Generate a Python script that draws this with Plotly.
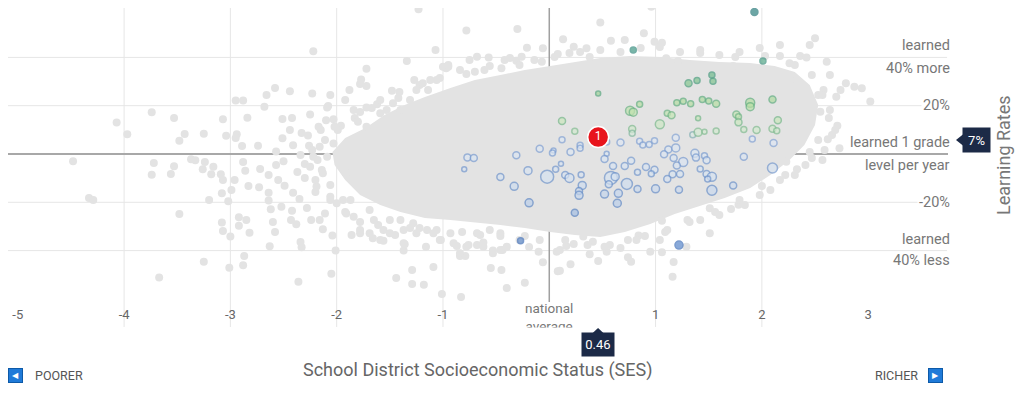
import plotly.graph_objects as go

# ---------------- data ----------------
# dense core of all districts (outline, SES / learning-rate %)
core_x = [-2.04, -1.92, -1.73, -1.55, -1.36, -1.17, -0.93, -0.70, -0.46, -0.23, 0.01, 0.24, 0.48, 0.76,
          1.04, 1.32, 1.60, 1.89, 2.12, 2.31, 2.45, 2.53, 2.50, 2.40, 2.26, 2.08, 1.89, 1.65, 1.42,
          1.18, 0.95, 0.71, 0.48, 0.24, 0.01, -0.23, -0.46, -0.70, -0.93, -1.17, -1.40, -1.59, -1.78,
          -1.92, -2.02]
core_y = [0.8, 6.6, 10.8, 16.1, 20.3, 23.6, 27.3, 30.6, 32.7, 34.8, 36.4, 38.1, 39.8, 40.6,
          40.2, 38.9, 38.1, 37.7, 36.4, 34.0, 28.6, 20.3, 12.0, 3.7, -2.5, -8.7, -14.1, -18.2, -21.5,
          -24.8, -29.0, -32.3, -34.4, -33.5, -32.3, -30.6, -29.4, -28.2, -27.3, -26.5, -24.0, -21.1, -17.0,
          -10.8, -4.6]

# other districts (scattered)
gray_x = [-1.23, -0.78, -0.30, -1.07, -1.34, -0.68, -0.57, -0.31, -2.22, -1.72, -0.95, -1.77, -1.72, -1.88,
          -1.48, -2.58, -2.44, -2.23, -2.66, -2.95, -2.88, -2.68, -2.08, -1.84, -1.72, -1.62, -3.74, -3.53,
          -4.07, -3.97, -3.07, -2.84, -2.51, -2.42, -2.25, -2.10, -2.03, -2.17, -1.96, -3.43, -3.25, -3.48,
          -3.04, -2.94, -2.95, -2.51, -2.33, -2.27, -2.89, -2.74, -2.41, -2.26, -2.57,
          -4.48, -3.72, -3.74, -3.56, -3.53, -3.37, -3.33, -3.24, -3.26, -3.16, -3.18, -3.09, -3.07, -2.96,
          -2.88, -2.86, -2.72, -2.57, -2.50, -2.64, -2.55, -2.49, -2.37, -2.30, -4.33, -4.29, -3.20, -3.08,
          -2.99, -2.83, -2.73, -2.64, -2.64, -2.41, -2.35, -3.48, -3.02, -2.62, -2.52, -2.42, -3.08, -3.07,
          -2.92, -2.85, -2.92, -2.82, -3.00, -2.60, -2.58, -2.43, -2.38, -2.34, -2.33, -2.63, -3.25, -2.87,
          -2.88, -3.01, -3.67, -2.36, -2.05, -2.01, -2.04, -2.13, -2.24, -2.28,
          -1.44, -1.29, -1.09, -1.29, -1.18, -0.55, -0.45, -0.40, -0.84, -0.79, -1.37, -1.16, -1.02, -1.01,
          -0.83, -0.23, 0.08, -0.06, -0.87, -0.76, -0.68, -0.62, -0.53, -0.44, -0.19, -0.10, 0.07, 0.16,
          -1.36, -1.66, -1.56, -1.86, -1.78,
          1.78, 1.71, 1.51, 1.30, 1.51, 1.09, 1.06, 1.29, 0.95, 1.06, 1.17, 1.16, 0.77, 0.74, 0.46, 0.38,
          0.20, 0.10, 0.54, 0.52, 0.23, 0.84, 0.82, 0.74, 0.41, 0.32,
          0.48, 0.89, 0.58, 0.71, 0.23, 0.35, 0.99, 1.06, 0.13, 2.45, 2.50, 2.17, 2.36, 2.42, 2.61, 1.21,
          1.10, 1.73, 2.26, 2.70, 2.58, 2.53, 2.33, 2.79, 2.87, 2.94, 3.02, 2.74, 2.71, 2.69, 2.73, 2.62,
          2.55, 2.41, 2.33, 2.23, -0.21, -0.06, -0.26, 0.08, -0.07, -0.45, -0.78, -0.70, -0.97, -1.78,
          -2.09, -2.02, 0.96,
          -1.22, -1.03, -0.84, -0.42, 0.29, 1.42, 1.79, 1.98, 2.64, 2.59, 2.47, 2.17, 1.98, 1.60, -0.28,
          -0.65, -1.22, -1.50, -1.69, -1.87, -2.06, -2.14, -2.18, -2.11, -1.99, -1.83, -1.67, -1.42,
          -2.15, -2.23, -2.30, -2.20, -2.06, -1.92, -1.78, -1.61, -1.45, -1.31, -1.06, -0.82, -0.46, -0.09,
          -2.06, -1.92, -1.78, -1.59, -1.41, -1.27, -1.14, -0.61, -0.28, 0.48, 0.86, 1.23, 1.60, 2.17,
          2.64, 2.66, 2.57, 2.31, 2.08, 1.84, 1.42, 1.04, 0.67, 0.10, -2.44, -2.34,
          -1.80, -1.72, -1.59, -1.53, -1.47, -1.40, -1.31, -1.25, -1.19, -1.12, -1.06, -1.00, -0.95,
          -2.16, -2.09, -2.03, -1.97, -1.91, -2.13, -2.19, -2.06, -2.00, -2.11, -2.16, -2.20, -2.25, -2.22,
          -1.94, -1.91, -1.84, -1.78, -1.69, -1.59, -1.65, -1.56, -1.50, -1.40, -1.37, -1.37, -1.28, -1.25,
          -1.15, -1.09, -1.03, -0.93, -0.90, -0.84, -0.78, -0.68, -0.62, -0.53, -0.46, -0.40, -0.56, -0.46,
          -0.75, -0.56, -0.37, -0.14, 0.05, 0.19, 0.38, 0.67, 1.04, 1.42, 1.75, 2.03, 2.31, 2.47, 2.57,
          2.63, 2.53, 2.45,
          2.22, 2.00, 1.79, 1.56, 1.32, 1.11, 0.90, 0.57, 0.36, 0.15, -0.23]
gray_y = [59.9, 51.1, 51.8, 43.1, 38.5, 40.3, 40.0, 38.6, 42.5, 35.3, 36.1, 30.9, 28.2, 26.5,
          26.2, 27.3, 26.0, 25.1, 24.4, 22.2, 22.2, 19.6, 19.9, 18.2, 19.3, 20.6, 17.3, 14.9,
          13.0, 8.2, 14.4, 15.0, 14.5, 14.9, 16.4, 14.0, 14.4, 11.3, 11.7, 8.3, 8.4, 5.5,
          7.6, 8.2, 6.6, 6.5, 8.7, 7.7, 3.3, 3.4, 3.6, 3.4, 1.0,
          -3.0, -3.7, -8.6, -8.3, -5.1, -2.2, -2.6, -3.3, -6.3, -5.3, -8.4, -8.4, -10.8, -10.8,
          -3.3, -6.9, -6.2, -4.6, -3.0, -8.7, -10.8, -13.1, -7.5, -4.1, -18.2, -19.0, -19.0, -16.3,
          -14.9, -13.3, -13.8, -16.0, -19.3, -16.0, -18.6, -24.8, -19.6, -22.9, -21.8, -23.5, -28.4, -31.9,
          -26.2, -27.3, -29.7, -32.6, -34.2, -28.2, -32.3, -27.3, -29.1, -36.4, -38.6, -38.2, -44.6, -42.2,
          -46.1, -47.1, -51.1, -52.9, -49.6, -40.0, -33.7, -31.2, -27.3, -22.4,
          -51.3, -48.0, -46.8, -53.8, -54.1, -47.2, -48.0, -55.5, -42.2, -42.2, -40.0, -38.4, -35.6, -58.0,
          -59.2, -53.3, -48.6, -44.8, -38.1, -37.7, -37.7, -36.7, -40.0, -39.8, -38.5, -40.5, -40.5, -38.1,
          -37.4, -34.9, -35.9, -33.5, -32.8,
          -21.0, -22.8, -22.5, -27.3, -32.8, -32.3, -27.6, -38.4, -40.5, -40.7, -44.7, -50.8, -44.6, -42.8, -44.3, -41.5,
          -45.7, -48.3, -40.5, -38.4, -37.3, -33.7, -35.6, -35.6, -36.3, -34.2,
          54.5, 50.0, 46.9, 47.2, 44.4, 43.8, 46.5, 46.1, 47.5, 45.1, 47.9, 40.6, 40.6, 40.0, 38.2, 38.5,
          39.6, 36.4, 37.6, 23.7, 26.5, 24.4, 30.6, 29.3, 27.9, 27.2, 21.7, 26.5, 11.7, 9.9, 2.4, 6.1,
          17.5, -4.6, -6.3, -3.2, 44.0, 43.8, 40.3, 41.4, 38.2, 35.5, 33.1, 34.1, 35.5, 29.0,
          19.3, 11.3, 61.0,
          28.6, 31.5, 34.8, 38.9, 42.2, 43.1, 42.2, 43.9, 32.7, 1.7, -1.7, -10.8, -17.0, -25.3, -35.6,
          -33.5, -30.6, -27.3, -23.2, -19.0, -12.8, -6.6, -2.5, 5.8, 9.9, 14.9, 19.0, 23.2,
          9.9, 1.7, -9.9, -15.7, -19.0, -24.0, -28.2, -29.4, -33.5, -30.6, -31.5, -32.3, -34.0, -35.6,
          24.4, 22.4, 17.4, 22.4, 25.7, 30.6, 26.5, 34.8, 36.9, 43.1, 43.9, 42.2, 41.0, 45.1,
          18.2, 7.9, -2.5, -8.7, -14.9, -21.1, -27.3, -35.6, -38.9, -39.8, 9.9, -0.4,
          13.4, 11.3, 16.9, 18.2, 21.0, 18.2, 22.4, 26.5, 29.3, 30.6, 30.6, 36.1, 36.9,
          3.0, -1.1, 4.4, -2.5, -8.0, -8.0, -13.5, -17.7, -20.4, -24.6, -27.3, -10.8, -5.3, -1.1,
          -19.0, -24.6, -26.0, -31.5, -32.8, -35.6, -27.3, -31.5, -32.8, -27.3, -31.5, -37.0, -28.7, -32.8,
          -31.5, -32.8, -35.6, -32.8, -37.0, -41.1, -38.4, -32.8, -38.4, -41.1, -39.8, -38.4, -31.5, -32.8,
          38.9, 36.4, 39.8, 38.9, 40.2, 41.8, 40.2, 42.2, 44.3, 41.8, 40.2, 40.6, 36.9, 32.7, 24.4,
          14.9, 5.8, 0.8,
          -8.7, -13.3, -19.0, -24.0, -28.2, -31.5, -34.0, -37.7, -37.7, -35.6, -34.0]

# highlighted districts: SES, learning rate (%), size
hl_x = [1.93, 0.79, 2.01, 1.53, 1.39, 1.31, 1.54, 0.46, 0.85, 1.20, 1.26, 1.33, 1.44, 1.50, 1.57, 1.89,
        1.89, 2.10, 0.76, 0.79, 1.11, 1.15, 1.76, 1.78, 1.78, 2.15, 1.40, 0.12, 1.04, 0.78, 0.78, 0.24,
        1.57, 1.83, 1.95, 2.10, 2.14, 1.35, 1.40, 1.46, 1.19, 1.91, 2.11, 0.12, 0.54, 0.67, 0.85, 0.88,
        0.94, 0.99, 0.29, 0.29, -0.09, 0.04, 0.03, 0.20, -0.31, -0.77, -0.71, -0.80, 0.54, 0.52, 0.60,
        0.71, 0.77, 1.12, 1.19, 1.08, 1.17, 1.26, 1.20, 1.37, 1.38, 1.46, 1.48, 1.83, 2.10, 0.91, 0.99,
        0.96, 0.83, 1.42, -0.20, 0.06, 0.11, -0.46, -0.02, 0.15, 0.19, 0.30, 0.58, 0.62, 1.16, 1.23,
        1.11, 1.48, 1.53, 1.49, 0.73, 0.56, 0.31, 0.28, 0.28, -0.33, 0.83, 1.00, 1.22, 1.53, 1.73, 0.52,
        0.65, 0.64, -0.19, 0.24, -0.27, 1.22]
hl_y = [58.8, 43.1, 38.5, 32.7, 30.4, 29.3, 30.1, 25.1, 20.6, 21.2, 21.8, 20.8, 22.6, 21.9, 20.8, 21.2,
        19.6, 22.6, 17.9, 17.3, 16.9, 16.0, 16.4, 15.4, 13.1, 14.0, 14.8, 13.7, 12.3, 10.4, 8.6, 9.4,
        9.5, 10.1, 9.9, 10.5, 9.6, 8.0, 9.0, 9.2, 6.7, 6.2, 4.6, 5.9, 5.0, 4.8, 5.3, 3.7,
        3.9, 5.5, 3.6, 2.4, 2.2, 1.5, 0.4, 0.8, -0.5, -1.4, -1.7, -6.3, 0.1, -2.1, -5.0,
        -5.0, -2.8, 1.9, 2.5, -0.1, -1.7, -3.3, -4.8, 0.3, -1.5, -0.7, -2.6, -1.1, -5.8, -5.4, -6.5,
        -8.2, -7.6, -6.2, -6.9, -6.3, -4.0, -9.5, -9.4, -8.7, -9.9, -8.6, -9.9, -9.4, -8.4, -8.3,
        -10.4, -8.3, -9.4, -10.4, -12.4, -12.5, -13.0, -15.3, -17.1, -13.4, -14.5, -14.4, -14.8, -15.0, -13.0, -16.6,
        -16.3, -20.4, -20.2, -24.3, -35.9, -37.7]
hl_size = [7, 6, 6, 6, 6, 7, 6, 5, 6, 6, 6, 6, 6, 6, 7, 9,
           8, 7, 9, 8, 6, 7, 7, 6, 7, 7, 5, 7, 9, 7, 6, 6,
           6, 6, 7, 7, 6, 6, 8, 5, 7, 6, 7, 6, 6, 7, 6, 6,
           6, 6, 6, 6, 7, 5, 6, 7, 7, 7, 7, 5, 5, 7, 7,
           7, 7, 7, 8, 7, 7, 9, 7, 8, 7, 6, 7, 7, 10, 7, 7,
           6, 6, 6, 8, 6, 5, 7, 13, 7, 9, 6, 13, 8, 7, 7,
           7, 7, 9, 6, 11, 7, 8, 7, 8, 8, 7, 8, 7, 10, 7, 8,
           8, 8, 8, 7, 6, 8]

sel_x = [0.46]
sel_y = [7]
sel_label = ["1"]

x_ticks = [-5, -4, -3, -2, -1, 1, 2, 3]
x_grid = [-4, -3, -2, -1, 1, 2]
y_grid = [40, 20, -20, -40]

# ---------------- style ----------------
GRAY = "#e3e3e3"
NAVY = "#1c2a47"
TXT = "#777777"
FONT = "Roboto"

fill_scale = [[0.0, "#4a7cc4"], [0.10, "#86a8d8"], [0.20, "#bcd0ea"], [0.30, "#d6e2f1"],
              [0.47, "#dfe8f3"], [0.49, "#d4e9d2"], [0.55, "#c8e6b8"], [0.61, "#b6dea2"],
              [0.68, "#8fcc93"], [0.75, "#62b38a"], [0.83, "#419884"], [1.0, "#2e7f80"]]
line_scale = [[0.0, "#3f6fb8"], [0.30, "#7095cc"], [0.47, "#86a5d6"], [0.49, "#84bd92"],
              [0.60, "#64b07e"], [0.70, "#4c9f7e"], [0.85, "#368a80"], [1.0, "#2b7a7c"]]

fig = go.Figure()

fig.add_trace(go.Scatter(x=core_x, y=core_y, mode="lines", fill="toself", fillcolor=GRAY,
                         line=dict(width=0, color=GRAY), hoverinfo="skip", showlegend=False))
fig.add_trace(go.Scatter(x=gray_x, y=gray_y, mode="markers",
                         marker=dict(size=8, color=GRAY, line=dict(width=0)),
                         hoverinfo="skip", showlegend=False))
fig.add_trace(go.Scatter(x=hl_x, y=hl_y, mode="markers", showlegend=False,
                         marker=dict(size=hl_size, color=hl_y, colorscale=fill_scale, cmin=-40, cmax=60,
                                     line=dict(width=1.5, color=hl_y, colorscale=line_scale,
                                               cmin=-40, cmax=60))))
fig.add_trace(go.Scatter(x=sel_x, y=sel_y, mode="markers+text", text=sel_label,
                         textposition="middle center", showlegend=False,
                         textfont=dict(color="white", size=12, family=FONT),
                         marker=dict(size=21, color="#e8141c", line=dict(color="white", width=1.5))))

shapes = []
for gx in x_grid:
    shapes.append(dict(type="line", xref="x", yref="paper", x0=gx, x1=gx, y0=1, y1=-0.074,
                       line=dict(color="#e6e6e6", width=1), layer="below"))
for gy in y_grid:
    shapes.append(dict(type="line", xref="paper", yref="y", x0=0, x1=0.999, y0=gy, y1=gy,
                       line=dict(color="#e6e6e6", width=1), layer="below"))
shapes.append(dict(type="line", xref="paper", yref="y", x0=0, x1=1, y0=0, y1=0,
                   line=dict(color="#a8a8a8", width=2), layer="below"))
shapes.append(dict(type="line", xref="x", yref="paper", x0=0, x1=0, y0=1, y1=0.01,
                   line=dict(color="#a0a0a0", width=1.5), layer="below"))
# badge carets
shapes.append(dict(type="path", xref="paper", yref="paper",
                   path="M 1.0085 0.5556 L 1.0165 0.5758 L 1.0165 0.5354 Z",
                   fillcolor=NAVY, line=dict(width=0)))
shapes.append(dict(type="path", xref="paper", yref="paper",
                   path="M 0.6277 -0.0774 L 0.6203 -0.0990 L 0.6351 -0.0990 Z",
                   fillcolor=NAVY, line=dict(width=0)))

ann = []
def label(text, y, bg=None):
    d = dict(text=text, xref="paper", yref="y", x=1.004, y=y, xanchor="right", yanchor="middle",
             showarrow=False, font=dict(family=FONT, size=14.5, color=TXT))
    if bg:
        d["bgcolor"] = bg
        d["borderpad"] = 1
    ann.append(d)

label("learned", 45.1)
label("40% more", 35.6)
label("20%", 20, "white")
label("learned 1 grade", 4.6)
label("level per year", -4.6)
label("-20%", -20, "white")
label("learned", -35.2)
label("40% less", -44.3)

def txt(text, x, y, xref="paper", yref="paper", **kw):
    d = dict(text=text, xref=xref, yref=yref, x=x, y=y, xanchor="center", yanchor="middle",
             showarrow=False)
    d.update(kw)
    ann.append(d)

txt("Learning Rates", 1.0596, -0.4, yref="y", textangle=-90,
    font=dict(family=FONT, size=18, color=TXT))
txt("7%", 1.0298, 0.5556, bgcolor=NAVY, borderpad=2, width=23, height=20,
    font=dict(family=FONT, size=13, color="white"))
txt("national<br>average", 0, -0.040, xref="x", font=dict(family=FONT, size=13.5, color=TXT))
txt(" ", 0, -0.1077, xref="x", width=60, height=16, bgcolor="white")
txt("0.46", 0.46, -0.133, xref="x", bgcolor=NAVY, borderpad=2, width=28, height=19,
    font=dict(family=FONT, size=13, color="white"))
txt("School District Socioeconomic Status (SES)", 0.5, -0.219,
    font=dict(family=FONT, size=18, color="#666"))
txt("◀", 0.008, -0.2357, bgcolor="#1f7ad8", bordercolor="#0d5aa8", borderwidth=1, width=11, height=11,
    font=dict(size=8, color="white"))
txt("POORER", 0.0266, -0.2357, xanchor="left", font=dict(family=FONT, size=12.5, color="#555"))
txt("▶", 0.9867, -0.2357, bgcolor="#1f7ad8", bordercolor="#0d5aa8", borderwidth=1, width=11, height=11,
    font=dict(size=8, color="white"))
txt("RICHER", 0.9702, -0.2357, xanchor="right", font=dict(family=FONT, size=12.5, color="#555"))

fig.update_layout(
    width=1016, height=391,
    margin=dict(l=0, r=76, t=0, b=94),
    paper_bgcolor="white", plot_bgcolor="white",
    xaxis=dict(range=[-5.092, 3.751], tickvals=x_ticks, ticktext=[str(t) for t in x_ticks],
               showgrid=False, zeroline=False, showline=False, ticks="",
               tickfont=dict(family=FONT, size=13, color="#666")),
    yaxis=dict(range=[-62.53, 60.46], showgrid=False, zeroline=False, showline=False,
               showticklabels=False),
    shapes=shapes, annotations=ann, showlegend=False,
    font=dict(family=FONT),
)

fig.write_html("out.html")
